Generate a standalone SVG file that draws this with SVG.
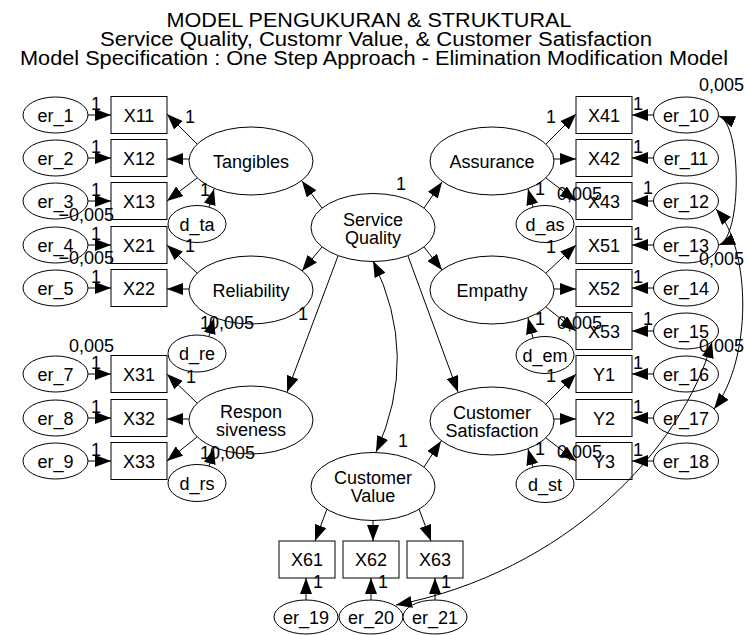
<svg xmlns="http://www.w3.org/2000/svg" width="748" height="635" viewBox="0 0 748 635">
<style>
text{font-family:"Liberation Sans",Arial,sans-serif;font-size:18px;fill:#000}
.t{font-size:20px;text-anchor:middle}
.c{text-anchor:middle}
.n ellipse,.n rect{fill:#fff;stroke:#000;stroke-width:1}
.e line,.e path{fill:none;stroke:#000;stroke-width:1;marker-end:url(#ah)}
.e .b{marker-start:url(#ah)}
</style>
<defs>
<marker id="ah" viewBox="0 0 16 12" refX="16" refY="6" markerWidth="16" markerHeight="12" markerUnits="userSpaceOnUse" orient="auto-start-reverse"><path d="M0,0 L16,6 L0,12 z" fill="#000"/></marker>
</defs>
<rect width="748" height="635" fill="#fff"/>
<g id="title">
<text class="t" x="369" y="26.5" textLength="405" lengthAdjust="spacingAndGlyphs">MODEL PENGUKURAN &amp; STRUKTURAL</text>
<text class="t" x="376" y="45.5" textLength="552" lengthAdjust="spacingAndGlyphs">Service Quality, Customr Value, &amp; Customer Satisfaction</text>
<text class="t" x="374" y="64.5" textLength="708" lengthAdjust="spacingAndGlyphs">Model Specification : One Step Approach - Elimination Modification Model</text>
</g>
<g class="n">
<g id="er_1"><ellipse cx="55.5" cy="115" rx="32.5" ry="18"/><text class="c" x="55.5" y="121.5">er_1</text></g>
<g id="er_2"><ellipse cx="55.5" cy="158" rx="32.5" ry="18"/><text class="c" x="55.5" y="164.5">er_2</text></g>
<g id="er_3"><ellipse cx="55.5" cy="201" rx="32.5" ry="18"/><text class="c" x="55.5" y="207.5">er_3</text></g>
<g id="er_4"><ellipse cx="55.5" cy="245" rx="32.5" ry="18"/><text class="c" x="55.5" y="251.5">er_4</text></g>
<g id="er_5"><ellipse cx="55.5" cy="288" rx="32.5" ry="18"/><text class="c" x="55.5" y="294.5">er_5</text></g>
<g id="er_7"><ellipse cx="55.5" cy="374" rx="32.5" ry="18"/><text class="c" x="55.5" y="380.5">er_7</text></g>
<g id="er_8"><ellipse cx="55.5" cy="418" rx="32.5" ry="18"/><text class="c" x="55.5" y="424.5">er_8</text></g>
<g id="er_9"><ellipse cx="55.5" cy="461" rx="32.5" ry="18"/><text class="c" x="55.5" y="467.5">er_9</text></g>
<g id="X11"><rect x="111" y="96.5" width="56" height="37"/><text class="c" x="139" y="121.5">X11</text></g>
<g id="X12"><rect x="111" y="139.5" width="56" height="37"/><text class="c" x="139" y="164.5">X12</text></g>
<g id="X13"><rect x="111" y="182.5" width="56" height="37"/><text class="c" x="139" y="207.5">X13</text></g>
<g id="X21"><rect x="111" y="226.5" width="56" height="37"/><text class="c" x="139" y="251.5">X21</text></g>
<g id="X22"><rect x="111" y="269.5" width="56" height="37"/><text class="c" x="139" y="294.5">X22</text></g>
<g id="X31"><rect x="111" y="355.5" width="56" height="37"/><text class="c" x="139" y="380.5">X31</text></g>
<g id="X32"><rect x="111" y="399.5" width="56" height="37"/><text class="c" x="139" y="424.5">X32</text></g>
<g id="X33"><rect x="111" y="442.5" width="56" height="37"/><text class="c" x="139" y="467.5">X33</text></g>
<g id="Tangibles"><ellipse cx="251" cy="161" rx="62" ry="34"/><text class="c" x="251" y="167.5">Tangibles</text></g>
<g id="Reliability"><ellipse cx="251" cy="290" rx="62" ry="34"/><text class="c" x="251" y="296.5">Reliability</text></g>
<g id="Responsiveness"><ellipse cx="251" cy="420" rx="62" ry="34"/><text class="c" x="251" y="418">Respon</text><text class="c" x="251" y="436">siveness</text></g>
<g id="d_ta"><ellipse cx="197" cy="224" rx="29" ry="18.5"/><text class="c" x="197" y="230.5">d_ta</text></g>
<g id="d_re"><ellipse cx="197" cy="353.5" rx="29" ry="18.5"/><text class="c" x="197" y="360">d_re</text></g>
<g id="d_rs"><ellipse cx="197" cy="483" rx="29" ry="18.5"/><text class="c" x="197" y="489.5">d_rs</text></g>
<g id="ServiceQuality"><ellipse cx="373" cy="227.5" rx="62" ry="34"/><text class="c" x="373" y="225.5">Service</text><text class="c" x="373" y="243.5">Quality</text></g>
<g id="CustomerValue"><ellipse cx="373" cy="486.5" rx="62" ry="34"/><text class="c" x="373" y="484">Customer</text><text class="c" x="373" y="502">Value</text></g>
<g id="Assurance"><ellipse cx="492" cy="161" rx="62" ry="34"/><text class="c" x="492" y="167.5">Assurance</text></g>
<g id="Empathy"><ellipse cx="492" cy="290" rx="62" ry="34"/><text class="c" x="492" y="296.5">Empathy</text></g>
<g id="CustomerSatisfaction"><ellipse cx="492" cy="421" rx="62" ry="34"/><text class="c" x="492" y="419">Customer</text><text class="c" x="492" y="437">Satisfaction</text></g>
<g id="d_as"><ellipse cx="545" cy="224" rx="29" ry="18.5"/><text class="c" x="545" y="230.5">d_as</text></g>
<g id="d_em"><ellipse cx="545" cy="355" rx="29" ry="18.5"/><text class="c" x="545" y="361.5">d_em</text></g>
<g id="d_st"><ellipse cx="545" cy="484" rx="29" ry="18.5"/><text class="c" x="545" y="490.5">d_st</text></g>
<g id="X41"><rect x="576" y="96.5" width="56" height="37"/><text class="c" x="604" y="121.5">X41</text></g>
<g id="X42"><rect x="576" y="139.5" width="56" height="37"/><text class="c" x="604" y="164.5">X42</text></g>
<g id="X43"><rect x="576" y="182.5" width="56" height="37"/><text class="c" x="604" y="207.5">X43</text></g>
<g id="X51"><rect x="576" y="226.5" width="56" height="37"/><text class="c" x="604" y="251.5">X51</text></g>
<g id="X52"><rect x="576" y="269.5" width="56" height="37"/><text class="c" x="604" y="294.5">X52</text></g>
<g id="X53"><rect x="576" y="312.5" width="56" height="37"/><text class="c" x="604" y="337.5">X53</text></g>
<g id="Y1"><rect x="576" y="355.5" width="56" height="37"/><text class="c" x="604" y="380.5">Y1</text></g>
<g id="Y2"><rect x="576" y="399.5" width="56" height="37"/><text class="c" x="604" y="424.5">Y2</text></g>
<g id="Y3"><rect x="576" y="442.5" width="56" height="37"/><text class="c" x="604" y="467.5">Y3</text></g>
<g id="er_10"><ellipse cx="686" cy="115" rx="32.5" ry="18"/><text class="c" x="686" y="121.5">er_10</text></g>
<g id="er_11"><ellipse cx="686" cy="158" rx="32.5" ry="18"/><text class="c" x="686" y="164.5">er_11</text></g>
<g id="er_12"><ellipse cx="686" cy="201" rx="32.5" ry="18"/><text class="c" x="686" y="207.5">er_12</text></g>
<g id="er_13"><ellipse cx="686" cy="245" rx="32.5" ry="18"/><text class="c" x="686" y="251.5">er_13</text></g>
<g id="er_14"><ellipse cx="686" cy="288" rx="32.5" ry="18"/><text class="c" x="686" y="294.5">er_14</text></g>
<g id="er_15"><ellipse cx="686" cy="331" rx="32.5" ry="18"/><text class="c" x="686" y="337.5">er_15</text></g>
<g id="er_16"><ellipse cx="686" cy="374" rx="32.5" ry="18"/><text class="c" x="686" y="380.5">er_16</text></g>
<g id="er_17"><ellipse cx="686" cy="418" rx="32.5" ry="18"/><text class="c" x="686" y="424.5">er_17</text></g>
<g id="er_18"><ellipse cx="686" cy="461" rx="32.5" ry="18"/><text class="c" x="686" y="467.5">er_18</text></g>
<g id="X61"><rect x="279" y="541" width="56" height="37"/><text class="c" x="307" y="566">X61</text></g>
<g id="X62"><rect x="343" y="541" width="56" height="37"/><text class="c" x="371" y="566">X62</text></g>
<g id="X63"><rect x="407" y="541" width="56" height="37"/><text class="c" x="435" y="566">X63</text></g>
<g id="er_19"><ellipse cx="306" cy="617" rx="32" ry="17"/><text class="c" x="306" y="623.5">er_19</text></g>
<g id="er_20"><ellipse cx="371" cy="617" rx="32" ry="17"/><text class="c" x="371" y="623.5">er_20</text></g>
<g id="er_21"><ellipse cx="435" cy="617" rx="32" ry="17"/><text class="c" x="435" y="623.5">er_21</text></g>
</g>
<g id="connectors" class="e">
<line x1="88" y1="115" x2="111" y2="115"/>
<line x1="88" y1="158" x2="111" y2="158"/>
<line x1="88" y1="201" x2="111" y2="201"/>
<line x1="88" y1="245" x2="111" y2="245"/>
<line x1="88" y1="288" x2="111" y2="288"/>
<line x1="88" y1="374" x2="111" y2="374"/>
<line x1="88" y1="418" x2="111" y2="418"/>
<line x1="88" y1="461" x2="111" y2="461"/>
<line x1="653.5" y1="115" x2="632" y2="115"/>
<line x1="653.5" y1="158" x2="632" y2="158"/>
<line x1="653.5" y1="201" x2="632" y2="201"/>
<line x1="653.5" y1="245" x2="632" y2="245"/>
<line x1="653.5" y1="288" x2="632" y2="288"/>
<line x1="653.5" y1="331" x2="632" y2="331"/>
<line x1="653.5" y1="374" x2="632" y2="374"/>
<line x1="653.5" y1="418" x2="632" y2="418"/>
<line x1="653.5" y1="461" x2="632" y2="461"/>
<line x1="306" y1="600" x2="306" y2="578"/>
<line x1="371" y1="600" x2="371" y2="578"/>
<line x1="435" y1="600" x2="435" y2="578"/>
<line x1="197" y1="144" x2="167" y2="114"/>
<line x1="189" y1="159" x2="167" y2="159"/>
<line x1="197" y1="178" x2="167" y2="201"/>
<line x1="197" y1="273" x2="167" y2="245"/>
<line x1="189" y1="289" x2="167" y2="289"/>
<line x1="197" y1="403" x2="167" y2="374"/>
<line x1="189" y1="419" x2="167" y2="419"/>
<line x1="197" y1="437" x2="167" y2="461"/>
<line x1="546" y1="144" x2="576" y2="114"/>
<line x1="554" y1="159" x2="576" y2="159"/>
<line x1="546" y1="178" x2="576" y2="201"/>
<line x1="546" y1="273" x2="576" y2="245"/>
<line x1="554" y1="289" x2="576" y2="289"/>
<line x1="546" y1="307" x2="576" y2="331"/>
<line x1="546" y1="404" x2="576" y2="374"/>
<line x1="554" y1="419" x2="576" y2="419"/>
<line x1="546" y1="438" x2="576" y2="461"/>
<line x1="209" y1="207" x2="214" y2="189"/>
<line x1="209" y1="336" x2="214" y2="318"/>
<line x1="209" y1="466" x2="214" y2="448"/>
<line x1="533" y1="207" x2="528" y2="189"/>
<line x1="533" y1="338" x2="528" y2="318"/>
<line x1="533" y1="467" x2="528" y2="449"/>
<line x1="322" y1="208" x2="302" y2="181"/>
<line x1="322" y1="247" x2="302" y2="271"/>
<line x1="424" y1="208" x2="442" y2="182"/>
<line x1="424" y1="247" x2="442" y2="270"/>
<line x1="338" y1="256" x2="287" y2="392"/>
<line x1="408" y1="256" x2="458" y2="392"/>
<line x1="424" y1="467" x2="441" y2="441"/>
<line x1="327" y1="509" x2="315" y2="541"/>
<line x1="373" y1="520.5" x2="373" y2="541"/>
<line x1="419" y1="509" x2="431" y2="541"/>
<path class="b" d="M373,261 Q420,356 376,452"/>
<path class="b" d="M719,116 C742,125 742,236 719,245"/>
<path class="b" d="M716,209 C752,250 752,360 714,409"/>
<path class="b" d="M712,342 C682,450 565,572 396,605"/>
</g>
<g id="labels">
<text x="91" y="110">1</text>
<text x="91" y="153">1</text>
<text x="91" y="196">1</text>
<text x="91" y="240">1</text>
<text x="91" y="283">1</text>
<text x="91" y="369">1</text>
<text x="91" y="413">1</text>
<text x="91" y="456">1</text>
<text x="633" y="110">1</text>
<text x="633" y="153">1</text>
<text x="643" y="194">1</text>
<text x="633" y="240">1</text>
<text x="633" y="283">1</text>
<text x="643" y="325">1</text>
<text x="633" y="369">1</text>
<text x="633" y="413">1</text>
<text x="633" y="456">1</text>
<text x="313" y="588">1</text>
<text x="378" y="588">1</text>
<text x="441" y="588">1</text>
<text x="185" y="123">1</text>
<text x="185" y="252">1</text>
<text x="186" y="383">1</text>
<text x="546" y="123">1</text>
<text x="546" y="253">1</text>
<text x="546" y="382">1</text>
<text x="200" y="196">1</text>
<text x="200" y="329">1</text>
<text x="200" y="459">1</text>
<text x="209" y="329">0,005</text>
<text x="210" y="459">0,005</text>
<text x="535" y="195">1</text>
<text x="535" y="325">1</text>
<text x="535" y="455">1</text>
<text x="557" y="200">0,005</text>
<text x="557" y="329">0,005</text>
<text x="557" y="458">0,005</text>
<text x="58.5" y="221">−0,005</text>
<text x="58.5" y="264">−0,005</text>
<text x="69" y="352">0,005</text>
<text x="699" y="91">0,005</text>
<text x="699" y="265">0,005</text>
<text x="699" y="352">0,005</text>
<text x="396" y="190">1</text>
<text x="298" y="320">1</text>
<text x="398" y="447">1</text>
</g>
</svg>
